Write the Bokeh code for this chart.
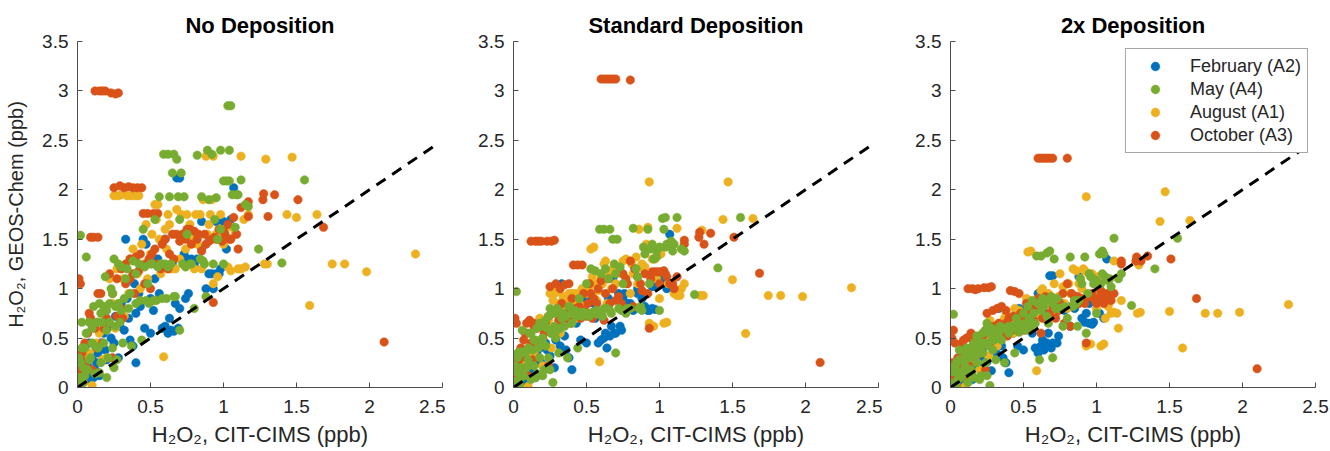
from bokeh.plotting import figure
from bokeh.layouts import row
from bokeh.models import FixedTicker, Range1d, Legend, LegendItem
from bokeh.embed import file_html
from bokeh.resources import INLINE

# ---------------- data ----------------
panel_titles = ["No Deposition", "Standard Deposition", "2x Deposition"]
series_names = ["February (A2)", "May (A4)", "August (A1)", "October (A3)"]
series_colors = ["#0072BD", "#77AC30", "#EDB120", "#D95319"]
x_ticks = [0, 0.5, 1, 1.5, 2, 2.5]
x_tick_labels = ["0", "0.5", "1", "1.5", "2", "2.5"]
y_ticks = [0, 0.5, 1, 1.5, 2, 2.5, 3, 3.5]
y_tick_labels = ["0", "0.5", "1", "1.5", "2", "2.5", "3", "3.5"]
one_to_one = [0, 2.45]

# February (A2): observed x, model y for no / standard / 2x deposition
feb_x = [0.02, 0.03, 0.05, 0.07, 0.09, 0.10, 0.12, 0.14, 0.15, 0.18, 0.20, 0.22, 0.25, 0.28,
         0.30, 0.32, 0.33, 0.35, 0.38, 0.40, 0.40, 0.42, 0.45, 0.47, 0.50, 0.50, 0.53, 0.55,
         0.58, 0.60, 0.62, 0.64, 0.66, 0.67, 0.68, 0.70, 0.70, 0.72, 0.74, 0.75, 0.78, 0.80,
         0.85, 0.88, 0.90, 0.92, 0.95, 0.95, 0.97, 1.00, 1.02, 1.05, 1.07, 0.85, 0.60,
         0.04, 0.06, 0.08, 0.11, 0.13, 0.16, 0.19, 0.23, 0.26, 0.29, 0.34, 0.36, 0.39, 0.43,
         0.46, 0.52, 0.56, 0.63, 0.65, 0.69, 0.73, 0.76, 0.82, 0.93, 0.98]
feb_nodep = [0.05, 0.12, 0.40, 0.22, 0.08, 0.30, 0.18, 0.35, 0.12, 0.55, 0.28, 0.62, 0.45, 0.30,
             0.85, 0.58, 1.50, 0.70, 0.42, 0.25, 0.75, 0.95, 1.50, 1.45, 0.55, 0.90, 1.10, 1.30,
             0.60, 0.62, 0.55, 0.58, 0.57, 0.85, 2.12, 0.80, 2.12, 1.30, 0.90, 1.30, 1.30, 1.25,
             1.68, 1.00, 1.15, 1.15, 1.15, 1.68, 1.15, 1.68, 1.40, 1.70, 2.02, 1.40, 1.50,
             0.25, 0.15, 0.45, 0.10, 0.25, 0.45, 0.38, 0.50, 0.72, 0.62, 0.90, 0.48, 1.05, 0.82,
             0.60, 0.78, 0.95, 0.70, 1.25, 0.60, 1.35, 0.95, 1.30, 1.00, 1.20]
feb_std = [0.04, 0.08, 0.28, 0.15, 0.06, 0.20, 0.12, 0.25, 0.10, 0.40, 0.22, 0.45, 0.32, 0.20,
           0.62, 0.42, 1.05, 0.52, 0.30, 0.18, 0.80, 0.82, 0.92, 0.88, 0.45, 0.90, 0.72, 0.85,
           0.45, 0.48, 0.50, 0.40, 0.52, 0.62, 1.10, 0.55, 1.15, 0.95, 0.58, 0.90, 0.85, 0.85,
           0.95, 0.90, 0.82, 0.78, 0.80, 1.02, 0.79, 1.05, 1.10, 1.00, 1.55, 1.00, 1.05,
           0.10, 0.20, 0.30, 0.12, 0.18, 0.35, 0.25, 0.38, 0.55, 0.48, 0.70, 0.38, 0.80, 0.65,
           0.48, 0.88, 0.70, 0.55, 0.90, 0.55, 0.62, 0.95, 0.78, 0.78, 1.02]
feb_2x = [0.03, 0.06, 0.18, 0.10, 0.05, 0.14, 0.09, 0.20, 0.08, 0.32, 0.18, 0.36, 0.26, 0.17,
          0.50, 0.34, 0.80, 0.42, 0.25, 0.15, 0.62, 0.65, 0.75, 0.80, 0.38, 0.78, 0.60, 0.68,
          0.40, 0.35, 0.42, 0.38, 0.45, 0.55, 1.13, 0.45, 1.13, 0.82, 0.52, 0.80, 0.78, 0.82,
          0.80, 1.12, 0.70, 0.66, 0.65, 0.85, 0.64, 0.95, 0.75, 0.70, 1.30, 0.92, 0.95,
          0.12, 0.08, 0.22, 0.10, 0.15, 0.28, 0.22, 0.30, 0.45, 0.40, 0.58, 0.30, 0.62, 0.55,
          0.42, 0.80, 0.55, 0.48, 0.75, 0.40, 0.45, 0.85, 0.62, 0.75, 0.66]

# May (A4)
may_x = [0.00, 0.01, 0.02, 0.02, 0.03, 0.04, 0.05, 0.06, 0.07, 0.08, 0.09, 0.10, 0.11, 0.12,
         0.13, 0.14, 0.15, 0.16, 0.17, 0.18, 0.19, 0.20, 0.21, 0.22, 0.23, 0.24, 0.25, 0.26,
         0.27, 0.28, 0.29, 0.30, 0.31, 0.32, 0.33, 0.35, 0.37, 0.38, 0.40, 0.42, 0.44, 0.45,
         0.47, 0.48, 0.50, 0.52, 0.53, 0.55, 0.56, 0.58, 0.59, 0.60, 0.61, 0.62, 0.63, 0.64,
         0.65, 0.66, 0.67, 0.68, 0.69, 0.70, 0.70, 0.71, 0.72, 0.73, 0.75, 0.77, 0.80, 0.82,
         0.84, 0.85, 0.87, 0.89, 0.90, 0.92, 0.93, 0.95, 0.96, 0.98, 1.00, 1.00, 1.02, 1.04,
         1.04, 1.03, 1.05, 1.08, 1.10, 1.12, 1.15, 1.17, 1.24, 1.40, 1.555,
         0.01, 0.03, 0.04, 0.06, 0.08, 0.10, 0.12, 0.14, 0.16, 0.18, 0.20, 0.22, 0.24, 0.26,
         0.28, 0.30, 0.34, 0.36, 0.40, 0.43, 0.46, 0.49, 0.51, 0.54, 0.57, 0.62, 0.66, 0.74,
         0.78, 0.86, 0.88, 0.94, 0.98, 1.06, 1.09, 0.05, 0.15, 0.20, 0.25, 0.03]
may_nodep = [0.02, 0.10, 1.54, 0.25, 0.66, 0.05, 0.40, 1.32, 0.18, 0.66, 0.30, 0.45, 0.82, 0.14,
             0.66, 0.40, 0.85, 0.25, 0.66, 0.45, 1.12, 0.78, 0.30, 0.66, 1.00, 0.40, 1.30, 0.82,
             0.28, 1.25, 0.66, 1.22, 0.45, 0.90, 1.10, 0.80, 0.42, 1.28, 0.85, 1.25, 0.48, 1.60,
             0.88, 1.05, 1.25, 0.88, 1.70, 1.22, 1.93, 0.90, 2.36, 1.25, 0.90, 2.36, 1.93, 1.25,
             2.17, 2.36, 0.92, 2.31, 1.93, 1.70, 0.58, 2.17, 1.25, 1.93, 1.55, 1.25, 0.80, 2.35,
             1.30, 1.93, 1.25, 2.40, 1.90, 2.36, 1.25, 1.92, 1.50, 2.40, 1.25, 2.09, 2.09, 2.40,
             2.09, 2.85, 2.85, 1.62, 1.95, 2.10, 1.85, 1.83, 1.40, 1.26, 2.10,
             0.30, 0.40, 0.20, 0.55, 0.28, 0.60, 0.42, 0.66, 0.75, 0.82, 0.58, 0.85, 0.95, 0.62,
             0.85, 0.78, 1.20, 0.95, 1.15, 0.88, 1.22, 0.85, 1.25, 0.88, 1.25, 1.22, 0.92, 1.22,
             1.25, 1.28, 0.92, 1.70, 1.60, 1.95, 1.95, 0.12, 0.15, 0.10, 0.20, 0.10]
may_std = [0.01, 0.06, 0.97, 0.18, 0.35, 0.03, 0.20, 0.58, 0.12, 0.35, 0.20, 0.28, 0.55, 0.08,
           0.38, 0.22, 0.48, 0.14, 0.40, 0.30, 0.62, 0.50, 0.18, 0.42, 0.60, 0.30, 0.80, 0.55,
           0.05, 0.75, 0.50, 0.80, 0.35, 0.60, 0.70, 0.62, 0.30, 0.82, 0.65, 0.78, 0.40, 0.90,
           0.72, 0.76, 1.05, 0.72, 1.20, 0.75, 1.18, 0.74, 1.60, 1.15, 0.72, 1.60, 1.20, 0.80,
           1.10, 1.60, 0.75, 1.50, 1.25, 1.15, 0.35, 1.50, 0.80, 1.22, 1.05, 0.75, 0.80, 1.61,
           1.20, 1.12, 0.82, 1.42, 1.35, 1.60, 1.05, 1.45, 1.30, 1.38, 0.78, 1.42, 1.71, 1.72,
           1.42, 1.60, 1.45, 1.48, 1.45, 1.72, 1.40, 1.38, 0.94, 1.21, 1.72,
           0.22, 0.30, 0.36, 0.36, 0.20, 0.40, 0.55, 0.48, 0.60, 0.65, 0.45, 0.68, 0.72, 0.55,
           0.62, 0.58, 0.75, 0.72, 0.75, 0.72, 0.76, 0.74, 0.75, 0.76, 0.78, 0.80, 0.78, 0.78,
           0.80, 0.80, 0.78, 1.40, 1.32, 1.45, 1.38, 0.10, 0.10, 0.12, 0.18, 0.15]
may_2x = [0.01, 0.04, 0.74, 0.16, 0.22, 0.02, 0.15, 0.38, 0.10, 0.28, 0.14, 0.22, 0.40, 0.05,
          0.30, 0.18, 0.35, 0.10, 0.32, 0.25, 0.48, 0.40, 0.12, 0.35, 0.45, 0.25, 0.65, 0.42,
          0.02, 0.60, 0.38, 0.58, 0.28, 0.50, 0.55, 0.48, 0.25, 0.60, 0.55, 0.62, 0.35, 0.70,
          0.56, 0.62, 0.75, 0.58, 0.82, 0.62, 0.88, 0.65, 1.33, 0.85, 0.28, 1.33, 0.90, 0.82,
          0.88, 1.36, 0.65, 1.38, 0.92, 0.85, 0.30, 1.30, 0.80, 0.90, 0.80, 0.62, 0.70, 1.32,
          0.82, 0.88, 0.62, 1.10, 1.05, 1.32, 0.55, 1.15, 1.12, 1.10, 0.75, 1.08, 1.35, 1.38,
          1.15, 1.05, 1.35, 1.08, 1.02, 1.51, 1.10, 1.15, 0.83, 1.20, 1.51,
          0.18, 0.20, 0.25, 0.28, 0.16, 0.32, 0.38, 0.40, 0.45, 0.52, 0.35, 0.55, 0.58, 0.45,
          0.52, 0.48, 0.62, 0.60, 0.62, 0.60, 0.65, 0.62, 0.65, 0.70, 0.75, 0.78, 0.72, 0.80,
          0.82, 0.85, 0.88, 0.95, 1.05, 1.12, 1.10, 0.08, 0.12, 0.08, 0.12, 0.20]

# August (A1)
aug_x = [0.02, 0.05, 0.08, 0.10, 0.12, 0.15, 0.18, 0.20, 0.22, 0.25, 0.26, 0.28, 0.30, 0.32,
         0.34, 0.36, 0.37, 0.40, 0.42, 0.43, 0.45, 0.47, 0.50, 0.52, 0.53, 0.55, 0.56, 0.58,
         0.59, 0.60, 0.62, 0.64, 0.66, 0.68, 0.70, 0.72, 0.75, 0.78, 0.80, 0.82, 0.84, 0.86,
         0.88, 0.90, 0.92, 0.93, 0.93, 0.95, 0.96, 0.98, 1.00, 1.03, 1.05, 1.08, 1.10, 1.12,
         1.12, 1.14, 1.15, 1.17, 1.28, 1.29, 1.30, 1.435, 1.47, 1.50, 1.59, 1.64, 1.745, 1.83,
         1.98, 2.315,
         0.06, 0.13, 0.17, 0.24, 0.27, 0.31, 0.35, 0.38, 0.41, 0.44, 0.48, 0.51, 0.54, 0.57,
         0.61, 0.63, 0.67, 0.71, 0.74, 0.77, 0.81, 0.85, 0.89, 0.91, 0.97, 1.01, 1.06]
aug_nodep = [0.10, 0.20, 0.35, 0.02, 0.15, 0.55, 0.75, 0.30, 1.10, 1.94, 0.60, 1.94, 1.95, 0.72,
             1.94, 1.30, 1.94, 1.94, 1.94, 1.00, 1.25, 1.65, 1.35, 1.75, 1.85, 1.85, 1.50, 1.25,
             0.31, 1.60, 1.75, 1.20, 1.55, 1.80, 1.30, 1.55, 1.75, 1.50, 1.20, 1.45, 1.75, 1.90,
             2.34, 1.65, 1.90, 1.05, 2.34, 1.55, 1.12, 1.75, 1.45, 1.22, 1.18, 1.55, 1.20, 1.20,
             2.34, 1.70, 1.22, 1.75, 1.25, 2.31, 1.25, 1.75, 2.33, 1.72, 0.83, 1.75, 1.25, 1.25,
             1.17, 1.35,
             0.30, 0.45, 0.28, 0.85, 1.20, 1.10, 0.95, 1.40, 1.15, 1.45, 1.10, 1.55, 1.70, 1.15,
             1.40, 1.65, 1.20, 1.75, 1.40, 1.65, 1.75, 1.20, 1.55, 1.75, 1.60, 1.60, 1.62]
aug_std = [0.08, 0.15, 0.25, 0.01, 0.10, 0.38, 0.70, 0.22, 0.62, 0.95, 0.40, 0.95, 0.97, 0.55,
           0.92, 0.88, 0.92, 0.95, 0.95, 0.70, 0.85, 1.00, 0.95, 1.02, 1.40, 1.42, 1.05, 0.98,
           0.26, 1.10, 1.25, 0.85, 1.15, 1.20, 1.05, 1.20, 1.28, 1.05, 0.95, 1.15, 1.32, 1.60,
           1.25, 1.22, 1.62, 0.65, 2.08, 1.30, 0.62, 1.10, 0.90, 0.65, 0.66, 1.05, 0.95, 0.93,
           1.61, 0.93, 1.00, 1.05, 0.93, 1.59, 0.93, 1.70, 2.08, 1.09, 0.546, 1.71, 0.93, 0.93,
           0.92, 1.01,
           0.25, 0.32, 0.42, 0.68, 0.88, 0.85, 0.78, 0.95, 0.88, 0.95, 0.82, 1.00, 1.12, 0.88,
           1.05, 1.28, 1.00, 1.22, 1.15, 1.30, 1.25, 1.05, 1.20, 1.45, 1.30, 1.35, 1.05]
aug_2x = [0.06, 0.12, 0.20, 0.01, 0.08, 0.30, 0.45, 0.18, 0.48, 0.55, 0.32, 0.62, 0.60, 0.42,
          0.65, 0.62, 0.70, 0.70, 0.68, 0.55, 0.62, 0.78, 0.70, 0.90, 1.37, 1.38, 0.80, 0.72,
          0.17, 0.85, 0.98, 0.70, 0.90, 0.88, 0.80, 0.75, 1.15, 0.85, 0.80, 0.95, 1.20, 1.18,
          1.05, 1.00, 1.18, 0.42, 1.93, 1.15, 0.44, 0.95, 0.80, 0.42, 0.44, 0.82, 0.75, 0.76,
          1.28, 0.75, 0.60, 0.88, 0.75, 1.24, 0.76, 1.68, 1.98, 0.77, 0.40, 1.69, 0.75, 0.75,
          0.76, 0.84,
          0.18, 0.25, 0.35, 0.50, 0.68, 0.62, 0.60, 0.75, 0.70, 0.80, 0.65, 0.75, 0.85, 0.80,
          0.88, 1.00, 0.95, 1.05, 0.92, 1.02, 1.05, 0.85, 1.10, 1.20, 1.15, 1.12, 0.70]

# October (A3)
oct_x = [0.00, 0.01, 0.02, 0.02, 0.03, 0.04, 0.05, 0.06, 0.08, 0.09, 0.10, 0.11, 0.12, 0.13,
         0.14, 0.15, 0.16, 0.17, 0.18, 0.19, 0.20, 0.22, 0.23, 0.24, 0.25, 0.26, 0.27, 0.28,
         0.29, 0.30, 0.31, 0.32, 0.33, 0.35, 0.36, 0.38, 0.39, 0.40, 0.41, 0.42, 0.44, 0.45,
         0.47, 0.48, 0.50, 0.52, 0.53, 0.55, 0.57, 0.60, 0.62, 0.64, 0.66, 0.68, 0.70, 0.80,
         0.60, 0.63, 0.65, 0.68, 0.70, 0.72, 0.75, 0.78, 0.80, 0.82, 0.85, 0.87, 0.90, 0.92,
         0.93, 0.95, 0.97, 0.99, 1.01, 1.03, 1.05, 1.07, 1.10, 1.12, 1.17, 1.17, 1.27, 1.275,
         1.305, 1.35, 1.51, 1.685, 2.10,
         0.01, 0.03, 0.05, 0.07, 0.09, 0.12, 0.14, 0.17, 0.19, 0.21, 0.24, 0.27, 0.30, 0.33,
         0.36, 0.38, 0.43, 0.46, 0.49, 0.51, 0.54, 0.58, 0.62, 0.66, 0.74, 0.77, 0.83, 0.88,
         0.94, 1.00, 1.04, 1.09]
oct_nodep = [0.15, 1.10, 1.05, 0.30, 0.20, 0.05, 0.45, 0.25, 0.75, 1.52, 0.18, 1.52, 3.00, 0.40,
             1.52, 3.00, 0.95, 3.00, 0.60, 3.00, 0.70, 1.15, 2.98, 0.30, 2.02, 2.97, 0.72, 2.98,
             2.04, 1.20, 0.70, 2.02, 1.05, 2.03, 1.30, 2.02, 0.95, 1.32, 2.02, 1.18, 2.02, 1.76,
             1.25, 1.76, 1.00, 1.76, 1.40, 1.76, 1.20, 3.70, 3.70, 3.70, 3.70, 3.70, 3.70, 3.70,
             1.50, 1.35, 1.55, 1.55, 1.48, 1.55, 1.60, 1.45, 1.58, 1.50, 1.38, 1.55, 1.48, 1.50,
             0.86, 1.50, 1.60, 1.48, 1.55, 1.65, 1.50, 1.72, 1.40, 1.82, 1.88, 1.73, 1.90, 1.96,
             1.73, 1.95, 1.90, 1.62, 0.46,
             0.20, 0.35, 0.15, 0.55, 0.70, 0.60, 0.95, 0.45, 0.80, 0.65, 0.95, 1.10, 0.80, 1.25,
             1.10, 1.15, 1.35, 1.05, 1.30, 1.35, 1.25, 1.45, 1.20, 1.30, 1.50, 1.60, 1.55, 1.45,
             1.52, 1.58, 1.50, 1.55]
oct_std = [0.10, 0.70, 0.65, 0.20, 0.28, 0.03, 0.30, 0.18, 0.55, 0.65, 0.12, 0.68, 1.48, 0.28,
           0.62, 1.48, 0.60, 1.48, 0.42, 1.48, 0.50, 0.66, 1.48, 0.22, 1.02, 1.48, 0.58, 1.49,
           1.05, 0.80, 0.68, 1.00, 0.85, 1.04, 0.75, 1.05, 0.65, 0.90, 1.24, 0.75, 1.24, 0.82,
           1.24, 0.95, 0.72, 1.05, 0.95, 0.90, 0.85, 3.12, 3.12, 3.12, 3.12, 3.12, 3.12, 3.11,
           1.08, 0.95, 1.10, 1.00, 0.88, 0.92, 1.15, 1.05, 1.28, 0.82, 1.12, 1.05, 1.15, 0.95,
           0.60, 1.17, 1.17, 1.17, 1.17, 1.18, 1.12, 1.05, 1.00, 1.12, 1.49, 1.45, 1.52, 1.57,
           1.45, 1.56, 1.52, 1.156, 0.253,
           0.30, 0.25, 0.40, 0.48, 0.55, 0.45, 0.65, 0.40, 0.62, 0.55, 0.72, 0.75, 0.62, 0.75,
           0.70, 0.72, 0.80, 0.70, 0.78, 0.85, 0.70, 1.00, 0.68, 0.85, 0.85, 1.10, 1.20, 0.98,
           1.10, 1.05, 1.15, 1.05]
oct_2x = [0.08, 0.50, 0.58, 0.15, 0.18, 0.02, 0.22, 0.14, 0.45, 0.48, 0.10, 0.50, 1.00, 0.22,
          0.55, 1.00, 0.45, 0.99, 0.32, 1.00, 0.40, 0.52, 1.01, 0.18, 0.75, 1.01, 0.45, 1.02,
          0.78, 0.62, 0.55, 0.80, 0.65, 0.82, 0.60, 0.78, 0.52, 0.70, 0.98, 0.58, 0.97, 0.60,
          0.95, 0.75, 0.58, 0.85, 0.75, 0.80, 0.68, 2.32, 2.32, 2.32, 2.32, 2.32, 2.32, 2.32,
          0.90, 0.70, 0.92, 0.75, 0.82, 0.70, 0.85, 0.65, 1.05, 0.62, 0.88, 0.92, 0.90, 0.85,
          0.45, 0.92, 0.95, 0.88, 0.90, 0.98, 0.85, 0.95, 0.88, 0.95, 1.28, 1.25, 1.28, 1.32,
          1.28, 1.33, 1.30, 0.90, 0.19,
          0.25, 0.45, 0.30, 0.40, 0.35, 0.35, 0.50, 0.30, 0.48, 0.42, 0.58, 0.62, 0.52, 0.62,
          0.55, 0.65, 0.72, 0.58, 0.65, 0.72, 0.60, 0.80, 0.55, 0.72, 0.78, 0.95, 0.95, 0.85,
          0.92, 0.85, 0.92, 0.90]

series_x = [feb_x, may_x, aug_x, oct_x]
series_y = [
    [feb_nodep, feb_std, feb_2x],
    [may_nodep, may_std, may_2x],
    [aug_nodep, aug_std, aug_2x],
    [oct_nodep, oct_std, oct_2x],
]
draw_order = [0, 2, 3, 1]  # blue, orange, red, green on top

FONT = "Liberation Sans"
AXIS_COLOR = "#4d4d4d"

frame_w = 365
frame_h = 346
borders = [(77, 3), (68, 4), (68, 15)]

figs = []
for i, title in enumerate(panel_titles):
    bl, br = borders[i]
    p = figure(width=bl + frame_w + br, height=41 + frame_h + 64,
               x_range=Range1d(0, 2.5), y_range=Range1d(0, 3.5),
               output_backend="svg", toolbar_location=None,
               min_border_left=bl, min_border_right=br,
               min_border_top=41, min_border_bottom=64)
    p.title.text = title
    p.title.align = "center"
    p.title.text_font = FONT
    p.title.text_font_size = "22px"
    p.title.text_font_style = "bold"
    p.title.text_color = "#000000"
    p.title.offset = 0
    p.title.standoff = 8

    p.outline_line_color = None
    p.grid.visible = False
    p.background_fill_color = "white"
    p.border_fill_color = "white"

    for ax in (p.xaxis[0], p.yaxis[0]):
        ax.axis_line_color = AXIS_COLOR
        ax.major_tick_line_color = AXIS_COLOR
        ax.major_tick_in = 5
        ax.major_tick_out = 0
        ax.minor_tick_line_color = None
        ax.major_label_text_font = FONT
        ax.major_label_text_font_size = "19px"
        ax.major_label_text_color = "#262626"
        ax.axis_label_text_font = FONT
        ax.axis_label_text_font_style = "normal"
        ax.axis_label_text_color = "#262626"

    p.xaxis.major_label_standoff = 12
    p.yaxis.major_label_standoff = 9
    p.xaxis.axis_label_text_font_size = "22px"
    p.yaxis.axis_label_text_font_size = "20px"
    p.xaxis.axis_label_standoff = 6
    p.yaxis.axis_label_standoff = 12

    p.xaxis.ticker = FixedTicker(ticks=x_ticks)
    p.xaxis.major_label_overrides = dict(zip(x_ticks, x_tick_labels))
    p.yaxis.ticker = FixedTicker(ticks=y_ticks)
    p.yaxis.major_label_overrides = dict(zip(y_ticks, y_tick_labels))
    p.xaxis.axis_label = "H\u2082O\u2082, CIT-CIMS (ppb)"
    if i == 0:
        p.yaxis.axis_label = "H\u2082O\u2082, GEOS-Chem (ppb)"

    renderers = {}
    for s in draw_order:
        r = p.scatter(series_x[s], series_y[s][i], size=8.5,
                      fill_color=series_colors[s], line_color=series_colors[s],
                      line_width=0.5)
        renderers[s] = r

    p.line(one_to_one, one_to_one, line_color="black", line_width=3,
           line_dash="11 8")

    if i == 2:
        items = [LegendItem(label=series_names[s], renderers=[renderers[s]])
                 for s in range(4)]
        leg = Legend(items=items, location="top_right")
        leg.margin = 7
        leg.padding = 6
        leg.spacing = 1
        leg.glyph_width = 46
        leg.glyph_height = 22
        leg.label_height = 22
        leg.label_standoff = 12
        leg.label_text_font = FONT
        leg.label_text_font_size = "18px"
        leg.label_text_color = "#262626"
        leg.border_line_color = AXIS_COLOR
        leg.border_line_width = 1
        leg.background_fill_color = "white"
        leg.background_fill_alpha = 1.0
        p.add_layout(leg, "center")

    figs.append(p)

layout = row(*figs)
open("out.html", "w").write(file_html(layout, INLINE))
